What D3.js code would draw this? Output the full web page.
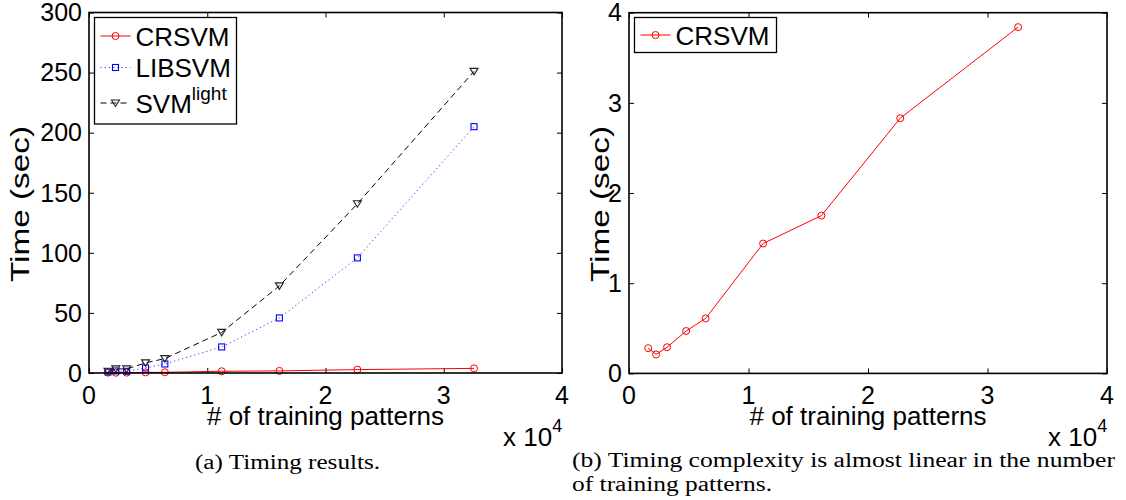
<!DOCTYPE html>
<html><head><meta charset="utf-8">
<script src="https://cdn.jsdelivr.net/npm/d3@7"></script>
<style>
html,body{margin:0;padding:0;background:#fff;}
text{font-family:"Liberation Sans",Arial,Helvetica,sans-serif;fill:#000;}
text.cap{font-family:"Liberation Serif","Times New Roman",serif;}
</style></head>
<body>
<svg id="chart" width="1126" height="500"></svg>
<script>
// ---- data ----
const patterns = [1605, 2265, 3185, 4781, 6414, 11220, 16100, 22696, 32561];
const crsvm    = [0.28, 0.21, 0.29, 0.47, 0.61, 1.44, 1.75, 2.83, 3.84];
const libsvm   = [0.9, 1.7, 1.4, 4.2, 7.5, 21.7, 45.8, 95.8, 205];
const svmlight = [1.4, 3.4, 3.4, 8.4, 12.0, 33.8, 72.5, 140.8, 251];
const xTicks = [0, 10000, 20000, 30000, 40000];
const yTicksA = [0, 50, 100, 150, 200, 250, 300];
const yTicksB = [0, 1, 2, 3, 4];

const svg = d3.select("#chart");
svg.append("rect").attr("width",1126).attr("height",500).attr("fill","#fff");

const TICK_FS = 25, LABEL_FS = 26;

function drawPanel(cfg){
  const g = svg.append("g");
  const x = d3.scaleLinear().domain([0,40000]).range([cfg.x0, cfg.x1]);
  const y = d3.scaleLinear().domain(cfg.yDomain).range([cfg.y0, cfg.y1]);
  const tl = 5;
  const clean = s=>{s.select(".domain").remove(); s.selectAll("line").attr("stroke","#000");};
  g.append("g").attr("transform",`translate(0,${cfg.y0})`)
    .call(d3.axisBottom(x).tickValues(xTicks).tickSize(-tl).tickFormat("")).call(clean);
  g.append("g").attr("transform",`translate(0,${cfg.y1})`)
    .call(d3.axisTop(x).tickValues(xTicks).tickSize(-tl).tickFormat("")).call(clean);
  g.append("g").attr("transform",`translate(${cfg.x0},0)`)
    .call(d3.axisLeft(y).tickValues(cfg.yTicks).tickSize(-tl).tickFormat("")).call(clean);
  g.append("g").attr("transform",`translate(${cfg.x1},0)`)
    .call(d3.axisRight(y).tickValues(cfg.yTicks).tickSize(-tl).tickFormat("")).call(clean);
  // tick labels
  g.selectAll(".xl").data(xTicks).join("text")
    .attr("x", d=>x(d)).attr("y", cfg.y0+31).attr("text-anchor","middle")
    .attr("font-size",TICK_FS).text(d=>d/10000);
  g.selectAll(".yl").data(cfg.yTicks).join("text")
    .attr("x", cfg.x0-7).attr("y", d=>y(d)).attr("dy","0.35em").attr("text-anchor","end")
    .attr("font-size",TICK_FS).text(d=>d);
  // axis labels
  g.append("text").attr("x",(cfg.x0+cfg.x1)/2).attr("y",cfg.y0+52)
    .attr("text-anchor","middle").attr("font-size",LABEL_FS).text("# of training patterns");
  g.append("text").attr("transform",`translate(${cfg.ylx},204) rotate(-90)`)
    .attr("x",-78).attr("font-size",LABEL_FS)
    .attr("textLength",156).attr("lengthAdjust","spacingAndGlyphs").text("Time (sec)");
  const xe = g.append("text").attr("x",cfg.x1-59).attr("y",cfg.y0+73).attr("font-size",LABEL_FS);
  xe.append("tspan").text("x 10");
  xe.append("tspan").attr("dy",-14).attr("font-size",18).text("4");

  // series
  cfg.series.forEach(s=>{
    const pts = patterns.map((p,i)=>[x(p), y(s.values[i])]);
    g.append("path").attr("d", d3.line()(pts)).attr("fill","none")
      .attr("stroke", s.color).attr("stroke-width", s.width||1)
      .attr("stroke-dasharray", s.dash||null);
    pts.forEach(p=>drawMarker(g, s.marker, p[0], p[1], s.mcolor));
  });
  // box
  g.append("rect").attr("x",cfg.x0).attr("y",cfg.y1).attr("width",cfg.x1-cfg.x0)
    .attr("height",cfg.y0-cfg.y1).attr("fill","none").attr("stroke","#000").attr("stroke-width",1.6);

  // legend
  const L = cfg.legend;
  g.append("rect").attr("x",L.x).attr("y",L.y).attr("width",L.w).attr("height",L.h)
    .attr("fill","#fff").attr("stroke","#000").attr("stroke-width",1.3);
  cfg.series.forEach((s,i)=>{
    const cy = L.rows[i];
    g.append("line").attr("x1",L.x+6).attr("x2",L.x+36).attr("y1",cy).attr("y2",cy)
      .attr("stroke",s.color).attr("stroke-width",s.width||1).attr("stroke-dasharray",s.dash||null);
    drawMarker(g, s.marker, L.x+21, cy, s.mcolor);
    const t = g.append("text").attr("x",L.x+41).attr("y",cy+9.5).attr("font-size",LABEL_FS);
    if(s.sup){ t.append("tspan").text(s.name); t.append("tspan").attr("dy",-13).attr("font-size",19).text(s.sup); }
    else t.text(s.name);
  });
}

function drawMarker(g, type, cx, cy, color){
  if(type==="o"){
    g.append("circle").attr("cx",cx).attr("cy",cy).attr("r",3.5)
      .attr("fill","none").attr("stroke",color).attr("stroke-width",1);
  } else if(type==="s"){
    g.append("rect").attr("x",cx-3).attr("y",cy-3).attr("width",6).attr("height",6)
      .attr("fill","none").attr("stroke",color).attr("stroke-width",1.1);
  } else if(type==="v"){
    g.append("path").attr("d",`M${cx-4},${cy-3}L${cx+4},${cy-3}L${cx},${cy+3.5}Z`)
      .attr("fill","none").attr("stroke",color).attr("stroke-width",1.1);
  }
}

drawPanel({
  x0:89, x1:562, y0:373, y1:12.5, yDomain:[0,300], yTicks:yTicksA, ylx:29,
  series:[
    {name:"CRSVM", values:crsvm, color:"#ff0000", mcolor:"#ff0000", marker:"o"},
    {name:"LIBSVM", values:libsvm, color:"#3b3bff", mcolor:"#0000ff", marker:"s", dash:"1.2,3"},
    {name:"SVM", sup:"light", values:svmlight, color:"#000", mcolor:"#222", marker:"v", dash:"6,4"}
  ],
  legend:{x:94.5, y:17.5, w:142, h:106.5, rows:[36, 67.5, 103]}
});
drawPanel({
  x0:629, x1:1107, y0:373.4, y1:12.7, yDomain:[0,4], yTicks:yTicksB, ylx:609,
  series:[
    {name:"CRSVM", values:crsvm, color:"#ff0000", mcolor:"#ff0000", marker:"o"}
  ],
  legend:{x:634.5, y:17.5, w:142, h:35, rows:[35]}
});

// captions
svg.append("text").attr("class","cap").attr("x",195).attr("y",469).attr("font-size",20)
  .attr("textLength",185).attr("lengthAdjust","spacingAndGlyphs").text("(a) Timing results.");
svg.append("text").attr("class","cap").attr("x",572).attr("y",467).attr("font-size",20)
  .attr("textLength",543).attr("lengthAdjust","spacingAndGlyphs").text("(b) Timing complexity is almost linear in the number");
svg.append("text").attr("class","cap").attr("x",572).attr("y",491).attr("font-size",20)
  .attr("textLength",200).attr("lengthAdjust","spacingAndGlyphs").text("of training patterns.");
</script>
</body></html>
